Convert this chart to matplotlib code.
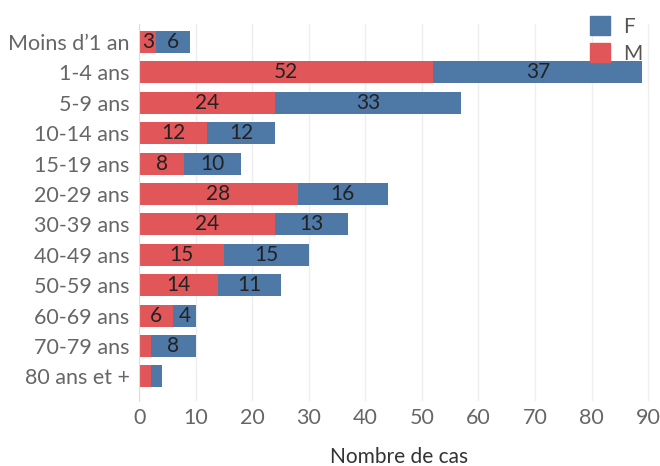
import numpy as np
import matplotlib.pyplot as plt
from matplotlib.patches import Patch

plt.rcParams['font.family'] = ['Lato', 'DejaVu Sans']

ages = ['Moins d\u20191 an', '1-4 ans', '5-9 ans', '10-14 ans', '15-19 ans', '20-29 ans',
        '30-39 ans', '40-49 ans', '50-59 ans', '60-69 ans', '70-79 ans', '80 ans et +']
hommes = [3, 52, 24, 12, 8, 28, 24, 15, 14, 6, 2, 2]
femmes = [6, 37, 33, 12, 10, 16, 13, 15, 11, 4, 8, 2]

rouge = '#E15759'
bleu = '#4E79A7'

fig = plt.figure(figsize=(6.6, 4.66), dpi=100)
ax = fig.add_axes([0.211, 0.140, 0.788, 0.809])

y = np.arange(len(ages))
ax.barh(y, hommes, height=0.72, color=rouge)
ax.barh(y, femmes, left=hommes, height=0.72, color=bleu)

# étiquettes dans les barres
for i in range(len(ages)):
    if hommes[i] >= 3:
        ax.text(hommes[i] / 2, i, str(hommes[i]), ha='center', va='center',
                fontsize=15, color='#222222')
    if femmes[i] >= 3:
        ax.text(hommes[i] + femmes[i] / 2, i, str(femmes[i]), ha='center', va='center',
                fontsize=15, color='#222222')

ax.set_ylim(11.8, -0.6)
ax.set_xlim(0, 92)
ax.set_yticks(y)
ax.set_yticklabels(ages)
ax.set_xticks(np.arange(0, 91, 10))
ax.tick_params(axis='both', length=0, labelsize=15.5, colors='#666666')
ax.tick_params(axis='x', pad=5)
ax.tick_params(axis='y', pad=7)
ax.grid(axis='x', color='#eeeeee', linewidth=1)
ax.set_axisbelow(True)
for s in ['top', 'right', 'bottom']:
    ax.spines[s].set_visible(False)
ax.spines['left'].set_color('#dddddd')

ax.set_xlabel('Nombre de cas', fontsize=15, color='#333333', labelpad=14)

handles = [Patch(color=bleu, label='F'), Patch(color=rouge, label='M')]
fig.legend(handles=handles, loc='upper left', bbox_to_anchor=(0.865, 1.005),
           frameon=False, fontsize=15, handlelength=1.0, handleheight=1.0,
           labelcolor='#555555', handletextpad=0.6, labelspacing=0.3)

fig.savefig('out.png', dpi=100)
